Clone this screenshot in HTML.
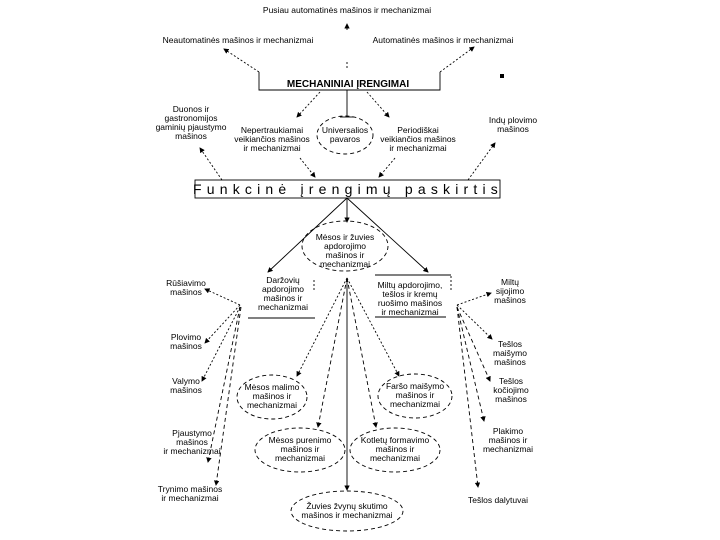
<!DOCTYPE html>
<html><head><meta charset="utf-8"><style>
html,body{margin:0;padding:0;background:#fff;width:720px;height:540px;overflow:hidden}
text{font-family:"Liberation Sans",sans-serif;font-size:8.5px;fill:#000}
</style></head><body>
<svg width="720" height="540" viewBox="0 0 720 540" xmlns="http://www.w3.org/2000/svg">
<defs><marker id="a" markerWidth="6" markerHeight="6" refX="5" refY="3" orient="auto"><path d="M0,0 L6,3 L0,6z" fill="#000"/></marker></defs>
<g stroke="#000" fill="none" stroke-width="0.9">
<!-- top -->
<line x1="347" y1="68" x2="347" y2="60" stroke-dasharray="2,2"/>
<line x1="347" y1="30" x2="347" y2="24" marker-end="url(#a)"/>
<polyline points="259,72 259,90 440,90 440,72"/>
<line x1="259" y1="72" x2="224" y2="49" stroke-dasharray="2,2" marker-end="url(#a)"/>
<line x1="440" y1="72" x2="474" y2="47" stroke-dasharray="2,2" marker-end="url(#a)"/>
<line x1="347" y1="90" x2="347" y2="117"/><line x1="340" y1="117" x2="354" y2="117"/>
<line x1="320" y1="92" x2="297" y2="117" stroke-dasharray="2,2" marker-end="url(#a)"/>
<line x1="367" y1="92" x2="389" y2="117" stroke-dasharray="2,2" marker-end="url(#a)"/>
<ellipse cx="345" cy="135" rx="28" ry="19" stroke-dasharray="4,3"/>
<rect x="195" y="180" width="305" height="18"/>
<line x1="222" y1="180" x2="200" y2="148" stroke-dasharray="2,2" marker-end="url(#a)"/>
<line x1="300" y1="158" x2="315" y2="177" stroke-dasharray="2,2" marker-end="url(#a)"/>
<line x1="395" y1="158" x2="379" y2="177" stroke-dasharray="2,2" marker-end="url(#a)"/>
<line x1="468" y1="180" x2="495" y2="143" stroke-dasharray="2,2" marker-end="url(#a)"/>
<!-- middle -->
<line x1="347" y1="198" x2="268" y2="272" marker-end="url(#a)"/>
<line x1="347" y1="198" x2="347" y2="222" marker-end="url(#a)"/>
<line x1="347" y1="198" x2="428" y2="272" marker-end="url(#a)"/>
<ellipse cx="345" cy="246" rx="43" ry="25" stroke-dasharray="4,3"/>
<line x1="248" y1="318" x2="315" y2="318"/>
<line x1="314" y1="280" x2="314" y2="292" stroke-dasharray="2,2"/>
<line x1="375" y1="275" x2="451" y2="275"/><line x1="375" y1="317" x2="446" y2="317"/>
<line x1="451" y1="276" x2="451" y2="290" stroke-dasharray="2,2"/>
<!-- left hub -->
<g stroke-dasharray="2,2">
<line x1="240" y1="305" x2="205" y2="289" marker-end="url(#a)"/>
<line x1="240" y1="305" x2="205" y2="343" marker-end="url(#a)"/>
<line x1="240" y1="307" x2="202" y2="381" marker-end="url(#a)"/>
<line x1="240" y1="307" x2="208" y2="462" stroke-dasharray="4,3" marker-end="url(#a)"/>
<line x1="241" y1="307" x2="216" y2="485" stroke-dasharray="4,3" marker-end="url(#a)"/>
<!-- right hub -->
<line x1="457" y1="305" x2="491" y2="293" marker-end="url(#a)"/>
<line x1="457" y1="305" x2="492" y2="339" marker-end="url(#a)"/>
<line x1="457" y1="307" x2="490" y2="381" stroke-dasharray="4,3" marker-end="url(#a)"/>
<line x1="457" y1="307" x2="484" y2="421" stroke-dasharray="4,3" marker-end="url(#a)"/>
<line x1="457" y1="307" x2="478" y2="487" stroke-dasharray="4,3" marker-end="url(#a)"/>
<!-- center fan -->
<line x1="347" y1="278" x2="297" y2="376" marker-end="url(#a)"/>
<line x1="347" y1="278" x2="318" y2="427" stroke-dasharray="4,3" marker-end="url(#a)"/>
<line x1="347" y1="278" x2="376" y2="427" stroke-dasharray="4,3" marker-end="url(#a)"/>
<line x1="347" y1="278" x2="399" y2="376" marker-end="url(#a)"/>
</g>
<line x1="347" y1="278" x2="347" y2="490" marker-end="url(#a)"/>
<ellipse cx="272" cy="397" rx="35" ry="22" stroke-dasharray="4,3"/>
<ellipse cx="300" cy="450" rx="45" ry="22" stroke-dasharray="4,3"/>
<ellipse cx="395" cy="450" rx="45" ry="22" stroke-dasharray="4,3"/>
<ellipse cx="415" cy="396" rx="37" ry="22" stroke-dasharray="4,3"/>
<ellipse cx="347" cy="511" rx="56" ry="20" stroke-dasharray="4,3"/>
</g>
<rect x="500" y="74" width="4" height="4" fill="#000"/>
<g text-anchor="middle">
<text x="347" y="13">Pusiau automatinės mašinos ir mechanizmai</text>
<text x="238" y="43">Neautomatinės mašinos ir mechanizmai</text>
<text x="443" y="43">Automatinės mašinos ir mechanizmai</text>
<text x="348" y="87" style="font-weight:bold;font-size:10px">MECHANINIAI ĮRENGIMAI</text>
<text x="191" y="112">Duonos ir</text><text x="191" y="121">gastronomijos</text><text x="191" y="130">gaminių pjaustymo</text><text x="191" y="139">mašinos</text>
<text x="513" y="123">Indų plovimo</text><text x="513" y="132">mašinos</text>
<text x="272" y="133">Nepertraukiamai</text><text x="272" y="142">veikiančios mašinos</text><text x="272" y="151">ir mechanizmai</text>
<text x="345" y="133">Universalios</text><text x="345" y="142">pavaros</text>
<text x="418" y="133">Periodiškai</text><text x="418" y="142">veikiančios mašinos</text><text x="418" y="151">ir mechanizmai</text>
<text x="348" y="194" style="font-size:14px;letter-spacing:5.2px">Funkcinė įrengimų paskirtis</text>
<text x="345" y="240">Mėsos ir žuvies</text><text x="345" y="249">apdorojimo</text><text x="345" y="258">mašinos ir</text><text x="345" y="267">mechanizmai</text>
<text x="283" y="283">Daržovių</text><text x="283" y="292">apdorojimo</text><text x="283" y="301">mašinos ir</text><text x="283" y="310">mechanizmai</text>
<text x="410" y="288">Miltų apdorojimo,</text><text x="410" y="297">tešlos ir kremų</text><text x="410" y="306">ruošimo mašinos</text><text x="410" y="315">ir mechanizmai</text>
<text x="186" y="286">Rūšiavimo</text><text x="186" y="295">mašinos</text>
<text x="186" y="340">Plovimo</text><text x="186" y="349">mašinos</text>
<text x="186" y="384">Valymo</text><text x="186" y="393">mašinos</text>
<text x="192" y="436">Pjaustymo</text><text x="192" y="445">mašinos</text><text x="192" y="454">ir mechanizmai</text>
<text x="190" y="492">Trynimo mašinos</text><text x="190" y="501">ir mechanizmai</text>
<text x="510" y="285">Miltų</text><text x="510" y="294">sijojimo</text><text x="510" y="303">mašinos</text>
<text x="510" y="347">Tešlos</text><text x="510" y="356">maišymo</text><text x="510" y="365">mašinos</text>
<text x="511" y="384">Tešlos</text><text x="511" y="393">kočiojimo</text><text x="511" y="402">mašinos</text>
<text x="508" y="434">Plakimo</text><text x="508" y="443">mašinos ir</text><text x="508" y="452">mechanizmai</text>
<text x="498" y="503">Tešlos dalytuvai</text>
<text x="272" y="390">Mėsos malimo</text><text x="272" y="399">mašinos ir</text><text x="272" y="408">mechanizmai</text>
<text x="300" y="443">Mėsos purenimo</text><text x="300" y="452">mašinos ir</text><text x="300" y="461">mechanizmai</text>
<text x="395" y="443">Kotletų formavimo</text><text x="395" y="452">mašinos ir</text><text x="395" y="461">mechanizmai</text>
<text x="415" y="389">Faršo maišymo</text><text x="415" y="398">mašinos ir</text><text x="415" y="407">mechanizmai</text>
<text x="347" y="509">Žuvies žvynų skutimo</text><text x="347" y="518">mašinos ir mechanizmai</text>
</g>
</svg>
</body></html>
